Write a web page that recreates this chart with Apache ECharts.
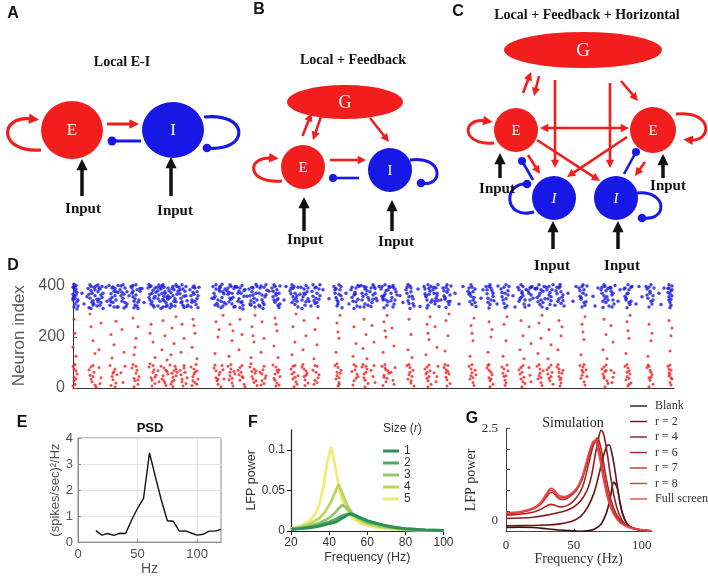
<!DOCTYPE html>
<html><head><meta charset="utf-8">
<script src="https://cdn.jsdelivr.net/npm/echarts/dist/echarts.min.js"></script>
<style>html,body{margin:0;padding:0;background:#fff}#c{width:708px;height:577px}</style>
</head><body><div id="c"></div>
<script>
// ---------------- DATA ----------------
// Panel D raster: flat [time, neuron] pairs (time in arbitrary units 0..601)
const spikesInhibitory = [
0,395,1,360,2,330,3,402,1,318,4,375,0,345,3,388,2,352,5,322,1,407,4,338,0,368,
15,390,17,352,19,372,21,330,23,400,16,315,18,383,20,342,22,362,24,322,17,405,19,336,21,395,14,358,
25,378,27,325,29,398,26,348,28,365,30,312,27,388,25,338,29,355,
36,402,38,370,40,335,42,390,44,318,39,355,41,380,43,345,37,325,40,396,42,362,45,375,
47,385,49,340,51,368,53,320,48,400,50,352,52,392,54,330,49,376,51,314,
58,398,60,358,62,326,64,385,66,345,59,372,61,315,63,405,65,336,60,380,62,350,64,322,67,390,
75,392,77,345,79,372,81,318,76,406,78,330,80,384,82,360,77,398,79,338,81,352,83,376,
84,395,85,322,86,365,87,340,85,382,88,312,86,404,
88,388,90,348,92,372,94,325,89,400,91,360,93,335,95,392,90,318,92,378,94,355,91,342,
96,382,98,330,100,398,102,350,104,368,97,315,99,390,101,340,103,405,100,362,98,374,102,322,
106,395,108,352,110,325,112,380,114,342,107,370,109,405,111,316,113,362,110,388,108,334,
117,385,119,345,121,400,123,328,125,362,118,318,120,375,122,392,124,350,119,336,121,368,
140,398,142,360,144,332,146,385,148,315,141,372,143,405,145,345,147,380,142,326,
147,394,149,355,151,370,150,322,148,340,152,388,149,407,
154,382,156,338,158,398,160,356,162,320,155,368,157,405,159,330,161,390,158,348,156,375,
164,395,166,350,168,372,170,325,172,386,165,340,167,315,169,402,171,360,168,335,166,380,
176,388,178,342,180,365,182,318,184,398,177,330,179,378,181,352,183,406,180,392,178,325,
186,372,188,400,190,335,192,358,194,384,187,320,189,346,191,395,193,366,190,312,
199,392,201,345,203,372,205,325,207,400,200,358,202,336,204,385,206,316,203,364,201,405,205,350,
217,382,219,335,221,398,223,352,225,318,218,370,220,390,222,328,224,362,221,345,219,405,
228,395,230,358,232,325,234,378,236,340,229,312,231,388,233,402,235,350,232,368,
239,380,241,342,243,395,245,320,247,362,240,405,242,332,244,372,246,388,243,352,
261,398,263,355,265,330,267,385,269,315,262,372,264,345,266,405,268,362,265,338,263,390,
278,385,280,340,282,368,284,322,286,398,279,355,281,312,283,392,285,348,282,376,
288,402,290,360,292,330,294,382,296,345,289,372,291,318,293,395,295,355,292,388,
297,378,299,335,301,398,303,352,298,320,300,365,302,390,304,342,300,405,
308,388,310,345,312,370,314,325,316,398,309,360,311,315,313,382,315,338,312,405,310,352,
317,395,319,355,321,330,323,378,318,342,320,318,322,388,324,365,320,402,
333,385,335,342,337,400,339,360,341,322,334,372,336,332,338,392,340,350,337,312,335,406,
351,398,353,358,355,325,357,380,359,345,352,370,354,314,356,390,358,336,355,405,353,362,
360,385,362,340,364,372,366,320,361,395,363,352,365,405,362,330,364,362,
370,392,372,348,374,376,376,328,378,400,371,362,373,316,375,385,377,340,374,405,372,355,
395,380,397,338,399,395,401,355,403,320,396,368,398,405,400,345,402,388,399,328,397,372,
413,398,415,352,417,328,419,382,421,342,414,370,416,314,418,392,420,360,417,405,415,336,
428,388,430,345,432,372,434,322,436,398,429,358,431,332,433,405,435,365,432,315,
445,395,447,350,449,378,451,330,453,386,446,340,448,405,450,362,452,318,449,372,
455,382,457,345,459,398,456,325,458,365,460,352,457,392,
463,388,465,338,467,372,469,318,471,398,464,355,466,405,468,345,470,380,467,328,
473,395,475,350,477,328,479,385,476,365,478,342,474,312,480,405,477,375,
483,382,485,340,487,398,489,356,491,322,484,370,486,392,488,332,490,365,487,406,
506,392,508,348,510,372,512,325,514,400,507,360,509,318,511,385,513,338,510,405,508,355,
528,385,530,340,532,398,534,358,536,322,529,372,531,405,533,335,535,390,532,350,530,316,
537,395,539,365,541,330,538,380,540,345,542,402,539,318,
551,388,553,345,555,372,557,328,559,398,552,360,554,315,556,385,558,340,555,405,553,352,
573,398,575,352,577,380,579,330,581,392,574,365,576,318,578,405,580,345,577,372,
595,390,596,345,597,370,598,325,599,400,596,358,597,315,598,382,596,405,597,335,599,362,
9,372,11,330,33,395,34,340,45,318,56,362,69,390,71,335,95,348,105,380,115,325,126,395,139,352,
153,330,163,398,174,360,186,325,196,380,211,345,213,398,227,368,238,322,250,385,256,350,273,372,
276,330,287,318,306,398,327,362,330,335,345,388,347,320,368,345,382,372,386,330,390,398,408,352,
410,385,424,330,425,400,440,362,442,318,462,390,472,350,482,325,495,372,500,340,503,398,520,360,
522,322,525,392,545,340,547,385,563,330,566,398,569,358,586,372,588,328,591,392,
0,352,2,380,4,310,1,392,3,365,5,345,16,368,18,398,20,326,22,385,24,348,18,312,
26,392,28,335,30,372,25,404,37,348,39,392,41,318,43,378,45,402,38,338,
48,362,50,405,52,335,54,378,59,392,61,340,63,365,65,312,67,380,60,402,
76,355,78,400,80,325,82,392,77,368,85,350,87,394,89,372,91,395,93,320,95,362,90,405,
97,355,99,322,101,385,103,338,104,398,107,385,109,338,111,360,113,398,114,320,
118,362,120,395,122,340,124,378,125,315,141,352,143,388,145,322,147,398,150,378,151,335,
155,392,157,352,159,372,161,318,162,398,165,372,167,392,169,338,171,382,170,310,
177,362,179,395,181,335,183,372,184,345,187,392,189,365,191,328,193,405,
200,380,202,398,204,345,206,372,207,330,218,392,220,358,222,372,224,340,225,395,
229,345,231,372,233,338,235,392,240,360,242,392,244,335,246,348,247,405,
262,385,264,322,266,368,268,398,269,348,279,395,281,365,283,338,285,402,
289,345,291,398,293,368,295,325,298,392,300,348,302,372,309,398,311,362,313,345,315,385,
318,372,320,395,322,345,334,395,336,358,338,378,340,332,352,388,354,345,356,368,358,398,
361,372,363,392,365,342,371,382,373,395,375,338,377,365,396,392,398,360,400,378,402,335,
414,385,416,398,418,345,420,372,429,375,431,395,433,350,435,382,446,385,448,355,450,398,452,345,
456,372,458,395,464,392,466,362,468,385,470,335,474,385,476,398,478,358,
484,395,486,350,488,378,490,342,507,382,509,398,511,335,513,365,
529,395,531,362,533,382,535,345,538,392,540,372,552,392,554,370,556,335,558,395,
574,388,576,395,578,340,580,362,595,375,596,392,598,348,599,385
];
const spikesExcitatory = [
0,85,1,42,2,15,3,68,1,28,4,55,0,8,2,92,
16,72,18,35,20,88,22,12,17,50,19,25,21,62,23,5,
26,80,28,40,27,18,
37,88,39,45,41,65,43,20,38,10,40,32,42,75,44,52,
48,60,50,22,52,85,
59,78,61,38,63,58,65,15,60,92,62,28,64,70,66,45,61,5,
76,82,78,40,80,62,82,18,77,95,79,30,81,72,83,50,79,8,
85,68,86,25,
88,85,90,48,92,20,94,65,89,35,91,78,93,10,95,55,
97,90,99,58,101,30,103,75,98,15,100,42,102,85,104,62,100,5,99,25,
107,70,109,35,111,88,113,18,108,52,110,8,112,62,114,40,
118,82,120,45,122,22,124,68,119,10,121,55,123,92,125,35,121,75,120,28,
141,78,143,40,145,15,147,62,142,90,144,28,146,52,148,5,
150,72,151,35,149,88,
155,85,157,48,159,20,161,65,156,32,158,75,160,8,162,55,158,92,
165,70,167,30,169,88,171,15,166,52,168,62,170,40,172,5,
177,82,179,45,181,22,183,68,178,95,180,35,182,58,184,10,181,75,
187,62,189,28,191,85,193,48,188,12,190,72,192,38,
200,90,202,55,204,20,206,72,201,38,203,8,205,62,207,45,203,82,202,30,
218,75,220,35,222,88,224,15,219,55,221,62,223,25,225,48,221,5,
229,82,231,45,233,68,235,20,230,92,232,32,234,58,232,10,
240,70,242,30,244,85,246,52,241,15,243,62,245,40,
262,88,264,48,266,22,268,70,263,35,265,80,267,58,265,8,264,95,266,40,
279,65,281,28,283,85,285,45,280,12,282,72,284,55,
289,82,291,40,293,62,295,18,290,92,292,30,294,75,292,5,
298,70,300,45,302,22,301,88,
309,85,311,50,313,25,315,68,310,10,312,78,314,38,316,58,312,92,
318,62,320,30,322,80,321,15,
334,88,336,52,338,20,340,70,335,35,337,80,339,45,341,8,337,62,
352,75,354,38,356,90,358,15,353,55,355,28,357,68,355,5,354,82,
361,60,363,25,365,85,364,45,
371,80,373,42,375,65,377,18,372,92,374,32,376,55,374,8,373,72,
396,85,398,48,400,22,402,70,397,35,399,60,401,10,403,52,399,92,
414,78,416,40,418,62,420,15,415,88,417,28,419,52,417,5,416,70,
429,82,431,45,433,20,435,68,430,58,432,30,434,90,432,10,
446,72,448,35,450,88,452,18,447,55,449,62,451,42,449,5,
456,80,458,25,457,50,
464,85,466,48,468,22,470,68,465,35,467,75,469,10,467,58,
474,72,476,38,478,90,480,15,475,55,477,28,479,62,
484,82,486,45,488,20,490,70,485,92,487,32,489,58,487,8,486,75,
507,88,509,50,511,25,513,72,508,38,510,62,512,12,514,45,510,82,
529,75,531,38,533,90,535,18,530,55,532,65,534,28,532,5,531,82,
538,70,540,42,539,22,541,60,
552,85,554,45,556,68,558,20,553,32,555,78,557,55,555,8,554,92,556,38,
574,80,576,40,578,62,580,15,575,90,577,30,579,52,577,70,576,5,
595,85,596,48,597,22,598,70,599,35,596,60,597,90,598,12,597,55,
1,75,3,35,18,82,20,45,40,58,42,5,63,85,65,32,80,88,82,42,91,28,93,70,101,68,103,48,
111,78,109,25,122,62,124,15,143,68,145,35,157,62,159,38,167,80,169,45,179,65,183,28,
189,55,191,18,204,70,206,12,220,85,222,42,231,75,233,50,242,88,244,22,264,62,266,15,
281,92,283,38,291,55,293,85,311,42,313,72,336,92,338,28,354,62,356,45,373,60,375,88,
398,75,400,40,416,92,418,35,431,75,433,48,448,80,450,25,466,92,468,40,476,80,478,45,
486,62,488,38,509,70,511,92,531,45,533,70,554,62,556,15,576,85,578,42,596,75,598,40,
1,270,2,215,0,160,3,125,18,240,20,185,22,135,17,290,28,255,26,150,
38,210,41,170,43,262,39,118,49,230,51,140,60,275,63,195,61,130,65,240,62,160,
78,250,80,180,82,120,77,215,90,265,92,205,89,150,94,110,99,235,101,175,103,280,98,130,
109,250,111,195,108,140,120,270,122,215,119,160,124,115,121,245,
143,260,145,200,142,135,146,230,150,285,157,250,159,185,156,125,160,225,
167,270,169,210,166,150,179,240,181,180,178,120,182,285,180,205,189,260,191,195,188,140,
202,275,204,225,201,165,205,120,203,250,220,240,222,180,219,130,223,290,
231,265,233,205,230,150,242,230,244,170,241,115,245,275,
264,255,266,195,263,140,267,285,265,220,281,240,283,175,280,125,
291,270,293,210,290,155,294,115,299,245,301,180,
311,260,313,200,310,140,314,285,312,225,319,235,321,165,
336,270,338,210,335,150,339,120,354,250,356,190,353,130,357,280,355,215,362,240,364,160,
373,265,375,205,372,145,376,290,398,245,400,185,397,125,401,275,399,215,
416,260,418,200,415,140,419,230,431,250,433,185,430,125,434,280,
448,265,450,205,447,150,451,115,456,240,458,175,466,255,468,195,465,135,469,285,
476,230,478,170,475,115,486,265,488,205,485,150,489,240,
509,250,511,190,508,130,512,280,510,220,531,270,533,210,530,150,534,115,538,245,540,180,
554,260,556,195,553,135,557,285,555,225,576,250,578,185,575,125,579,215,
596,265,598,205,597,145,599,235
];
const rasterYTicks = [0, 200, 400];

// Panel E: PSD
const psdHz    = [15, 20, 25, 30, 35, 40, 45, 50, 55, 60, 65, 70, 75, 80, 85, 90, 95, 100, 105, 110, 115, 120];
const psdPower = [0.44,0.27,0.33,0.26,0.34,0.33,0.85,1.3,1.68,3.43,2.5,1.6,0.82,0.8,0.42,0.43,0.35,0.27,0.3,0.42,0.42,0.49];

// Panel F: LFP power vs frequency for sizes r = 1..5
const sizeNames = ['1', '2', '3', '4', '5'];
const lfpSize1 = [[20,0.002],[25,0.003],[30,0.004],[35,0.006],[40,0.009],[43.5,0.011],[47,0.016],[51,0.0215],[54,0.019],[57,0.016],[60,0.013],[65,0.0095],[70,0.0065],[75,0.0045],[80,0.003],[90,0.0015],[100,0.0008]];
const lfpSize2 = [[20,0.002],[25,0.003],[30,0.005],[35,0.008],[40,0.011],[43,0.014],[46,0.018],[48,0.02],[50.5,0.021],[53,0.019],[56,0.016],[60,0.012],[65,0.009],[70,0.006],[75,0.004],[80,0.003],[90,0.0015],[100,0.0008]];
const lfpSize3 = [[20,0.002],[25,0.004],[30,0.006],[35,0.01],[40,0.016],[43,0.022],[45,0.028],[47,0.032],[49,0.029],[51,0.024],[54,0.018],[58,0.012],[62,0.009],[70,0.005],[80,0.002],[90,0.001],[100,0.0005]];
const lfpSize4 = [[20,0.003],[25,0.005],[30,0.009],[35,0.016],[38,0.024],[41,0.036],[43,0.047],[45,0.058],[47,0.046],[49,0.034],[52,0.022],[55,0.015],[60,0.009],[65,0.006],[70,0.004],[80,0.002],[90,0.001],[100,0.0005]];
const lfpSize5 = [[20,0.003],[25,0.006],[30,0.013],[33,0.022],[35,0.034],[37,0.055],[39,0.085],[41,0.104],[43,0.083],[45,0.055],[47,0.037],[50,0.023],[53,0.015],[56,0.01],[60,0.007],[65,0.004],[70,0.003],[80,0.0015],[90,0.0008],[100,0.0004]];

// Panel G: simulated LFP power
const simNames = ['Blank', 'r = 2', 'r = 4', 'r = 6', 'r = 7', 'r = 8', 'Full screen'];
const simBlank = [[0,0.1],[10,0.11],[20,0.1],[30,0.07],[40,0.04],[50,0.02],[55,0.01],[60,0.02],[65,0.06],[70,0.18],[74,0.45],[77,0.85],[79.5,1.2],[82,1.05],[84,0.7],[86,0.42],[89,0.2],[93,0.09],[100,0.04],[107,0.02]];
const simR2 = [[0,0.14],[10,0.15],[20,0.15],[30,0.16],[40,0.19],[45,0.22],[50,0.27],[55,0.37],[60,0.58],[65,0.95],[69,1.45],[72,1.85],[74.5,2.08],[76,2.1],[78,1.9],[80,1.55],[82,1.1],[84,0.7],[86,0.42],[89,0.2],[93,0.1],[100,0.04],[107,0.02]];
const simR4 = [[0,0.32],[10,0.33],[20,0.35],[30,0.4],[40,0.47],[45,0.52],[50,0.6],[55,0.74],[60,1.02],[63,1.35],[66,1.9],[68.5,2.3],[70,2.45],[71.5,2.4],[73,2.2],[75,1.8],[77,1.35],[80,0.8],[83,0.45],[86,0.25],[90,0.12],[95,0.06],[100,0.04],[107,0.02]];
const simR6 = [[0,0.4],[10,0.42],[20,0.47],[26,0.55],[30,0.62],[33,0.66],[36,0.64],[40,0.6],[45,0.63],[50,0.75],[55,0.98],[58,1.25],[61,1.65],[64,2.05],[66,2.22],[67.5,2.27],[69,2.15],[71,1.85],[73,1.45],[76,0.95],[79,0.6],[82,0.38],[86,0.22],[90,0.12],[95,0.07],[100,0.04],[107,0.02]];
const simR7 = [[0,0.44],[10,0.46],[20,0.55],[25,0.65],[29,0.8],[32,0.93],[34,0.95],[37,0.86],[40,0.78],[43,0.78],[47,0.85],[52,1.0],[56,1.25],[59,1.55],[62,1.9],[64.5,2.12],[66.5,2.2],[68,2.1],[70,1.8],[72,1.4],[75,0.92],[78,0.58],[81,0.38],[85,0.22],[90,0.12],[95,0.07],[100,0.04],[107,0.02]];
const simR8 = [[0,0.45],[10,0.47],[20,0.56],[25,0.67],[29,0.85],[32,0.99],[34,1.0],[37,0.9],[40,0.82],[43,0.82],[47,0.88],[52,1.03],[56,1.3],[59,1.62],[62,1.98],[64.5,2.18],[66,2.19],[67.5,2.05],[69.5,1.75],[72,1.3],[75,0.85],[78,0.55],[81,0.36],[85,0.21],[90,0.12],[95,0.07],[100,0.04],[107,0.02]];
const simFull = [[0,0.46],[10,0.48],[20,0.57],[25,0.69],[29,0.88],[32,1.03],[34,1.05],[37,0.95],[40,0.86],[43,0.85],[47,0.9],[52,1.05],[56,1.32],[59,1.66],[62,2.0],[64,2.17],[65.5,2.2],[67,2.08],[69,1.78],[71.5,1.32],[74.5,0.85],[77.5,0.55],[80.5,0.36],[84,0.22],[90,0.11],[95,0.07],[100,0.04],[107,0.02]];

// ---------------- BUILD ----------------
function pairs(flat){const o=[];for(let i=0;i<flat.length;i+=2)o.push([flat[i],flat[i+1]]);return o;}
const SANS='"Liberation Sans", Arial, sans-serif';
const SERIF='"Liberation Serif", "Times New Roman", serif';
const RED='#f21d1d', BLUE='#1717e6', BLK='#111111';

// schematic diagrams (panels A-C) drawn as graphic elements
const GR=[];
function txt(x,y,t,font,fill){GR.push({type:'text',x:x,y:y,z:10,style:{text:t,font:font,fill:fill,align:'center',verticalAlign:'middle',textAlign:'center',textVerticalAlign:'middle'}});}
function node(cx,cy,rx,ry,color,label,italic,fs){
  GR.push({type:'circle',x:cx,y:cy,scaleX:rx,scaleY:ry,shape:{cx:0,cy:0,r:1},style:{fill:color}});
  txt(cx,cy+1,label,(italic?'italic ':'')+fs+'px '+SERIF,'#ffffff');
}
function head(x,y,ux,uy,color,L,W){
  GR.push({type:'polygon',shape:{points:[[x,y],[x-L*ux+W*uy,y-L*uy-W*ux],[x-L*ux-W*uy,y-L*uy+W*ux]]},style:{fill:color}});
}
function arrow(x1,y1,x2,y2,color,w,both){
  const dx=x2-x1,dy=y2-y1,d=Math.hypot(dx,dy),ux=dx/d,uy=dy/d,L=w*3.2,W=w*1.6;
  GR.push({type:'line',shape:{x1:both?x1+ux*L*0.8:x1,y1:both?y1+uy*L*0.8:y1,x2:x2-ux*L*0.8,y2:y2-uy*L*0.8},style:{stroke:color,lineWidth:w}});
  head(x2,y2,ux,uy,color,L,W); if(both) head(x1,y1,-ux,-uy,color,L,W);
}
function inhib(x1,y1,x2,y2,color,w,r){
  GR.push({type:'line',shape:{x1:x1,y1:y1,x2:x2,y2:y2},style:{stroke:color,lineWidth:w}});
  GR.push({type:'circle',shape:{cx:x2,cy:y2,r:r},style:{fill:color}});
}
function loop(x1,y1,c1x,c1y,c2x,c2y,x2,y2,color,w,kind){
  GR.push({type:'bezierCurve',shape:{x1:x1,y1:y1,cpx1:c1x,cpy1:c1y,cpx2:c2x,cpy2:c2y,x2:x2,y2:y2},style:{stroke:color,lineWidth:w,fill:'none'}});
  if(kind==='arrow'){const dx=x2-c2x,dy=y2-c2y,d=Math.hypot(dx,dy),L=w*3.2;head(x2+dx/d*L*0.7,y2+dy/d*L*0.7,dx/d,dy/d,color,L,w*1.6);}
  else GR.push({type:'circle',shape:{cx:x2,cy:y2,r:4.3},style:{fill:color}});
}
const LET='bold 16px '+SANS, TIT='bold 14px '+SERIF, INP='bold 15px '+SERIF;
// Panel A
txt(13,14,'A',LET,BLK); txt(122,62,'Local E-I',TIT,BLK);
loop(41,150,-2,153,-2,115,32,119,RED,3.2,'arrow');
loop(204,117,250,112,250,152,207,148,BLUE,3.2,'dot');
node(72,130,31,29,RED,'E',false,17); node(173,130,31,28,BLUE,'I',false,17);
arrow(107,124,139,124,RED,3); inhib(141,141,112,141,BLUE,3,4.5);
arrow(82,196,82,159,BLK,3.5); txt(83,209,'Input',INP,BLK);
arrow(171,196,171,157,BLK,3.5); txt(175,211,'Input',INP,BLK);
// Panel B
txt(259,10,'B',LET,BLK); txt(353,60,'Local + Feedback',TIT,BLK);
loop(282,181,246,184,246,156,272,158,RED,3,'arrow');
loop(410,160,444,155,444,188,421,183,BLUE,3,'dot');
node(345,102,58,17,RED,'G',false,18);
node(303,167,22,22,RED,'E',false,15); node(390,170,22,22,BLUE,'I',false,15);
arrow(302.5,136,311.5,113,RED,2.6); arrow(321.5,115,313,140,RED,2.6);
arrow(370,118,389,142,RED,2.6);
arrow(330,160,366,160,RED,2.6); inhib(359,178,333,178,BLUE,2.6,4);
arrow(304,231,304,197,BLK,3.5); txt(305,240,'Input',INP,BLK);
arrow(392,231,392,200,BLK,3.5); txt(396,242,'Input',INP,BLK);
// Panel C
txt(458,12,'C',LET,BLK); txt(587,15,'Local + Feedback + Horizontal',TIT,BLK);
loop(494,143,461,146,461,117,486,121,RED,3,'arrow');
loop(676,114,713,110,713,142,690,140,RED,3,'arrow');
loop(534,212,503,220,503,182,527,184,BLUE,3,'dot');
loop(637,193,668,190,668,222,642,218,BLUE,3,'dot');
node(583,50,79,18,RED,'G',false,19);
arrow(523,93,531,72,RED,2.6); arrow(539,76,534,96,RED,2.6);
arrow(621,81,638,101,RED,2.6);
arrow(555,80,555,168,RED,2.6); arrow(610,83,610,168,RED,2.6);
arrow(540,128,629,128,RED,2.6,true);
arrow(537,140,600,181,RED,2.6); arrow(627,137,567,177,RED,2.6);
arrow(528,155,540,174,RED,2.6); arrow(645,162,635,176,RED,2.6);
inhib(533,180,522,161,BLUE,2.6,4); inhib(624,174,636,152,BLUE,2.6,4);
node(516,130,22,22,RED,'E',false,15); node(653,130,23,23,RED,'E',false,15);
node(554,198,22,22,BLUE,'I',true,15); node(616,198,22,22,BLUE,'I',true,15);
arrow(500,178,500,153,BLK,3.5); txt(497,189,'Input',INP,BLK);
arrow(663,178,663,154,BLK,3.5); txt(668,186,'Input',INP,BLK);
arrow(553,249,553,221,BLK,3.5); txt(552,266,'Input',INP,BLK);
arrow(618,249,618,221,BLK,3.5); txt(622,266,'Input',INP,BLK);
// panel letters / titles for lower panels
txt(13,266,'D',LET,BLK); txt(22,423,'E',LET,BLK); txt(253,423,'F',LET,BLK); txt(472,419,'G',LET,BLK);
txt(150,428,'PSD','bold 13px '+SANS,BLK);
txt(573,423,'Simulation','14px '+SERIF,'#222');

const fColors = ['#2f8f55','#4cad5c','#93c76e','#bad65e','#f3eb72'];
const fData = [lfpSize1,lfpSize2,lfpSize3,lfpSize4,lfpSize5];
const gColors = ['#3c0d0d','#661515','#8b1e1e','#a92626','#c42e2e','#d93a3a','#ea4747'];
const gData = [simBlank,simR2,simR4,simR6,simR7,simR8,simFull];

const series = [
  {type:'scatter',xAxisIndex:0,yAxisIndex:0,data:pairs(spikesInhibitory),symbolSize:3.5,itemStyle:{color:BLUE},silent:true},
  {type:'scatter',xAxisIndex:0,yAxisIndex:0,data:pairs(spikesExcitatory),symbolSize:3,itemStyle:{color:RED},silent:true},
  {type:'line',xAxisIndex:1,yAxisIndex:1,data:psdHz.map((h,i)=>[h,psdPower[i]]),symbol:'none',lineStyle:{color:'#111',width:1.4},silent:true}
];
for(let i=4;i>=0;i--) series.push({name:sizeNames[i],type:'line',xAxisIndex:2,yAxisIndex:2,data:fData[i],symbol:'none',color:fColors[i],lineStyle:{color:fColors[i],width:2.8},silent:true});
for(let i=0;i<7;i++) series.push({name:simNames[i],type:'line',xAxisIndex:3,yAxisIndex:3,data:gData[i],symbol:'none',smooth:0.3,color:gColors[i],lineStyle:{color:gColors[i],width:1.6},silent:true});

const near=(v,arr)=>arr.some(a=>Math.abs(a-v)<1e-6);
const option = {
  animation:false,
  backgroundColor:'#ffffff',
  textStyle:{fontFamily:SANS},
  grid:[
    {left:73, top:283.5, width:601, height:104.5},
    {left:78, top:438, width:143, height:106, show:true, borderColor:'#8a8a8a', borderWidth:1},
    {left:291, top:429.75, width:152.5, height:101.25},
    {left:506, top:428.2, width:145.2, height:103.5}
  ],
  xAxis:[
    {gridIndex:0,type:'value',min:0,max:601,axisLine:{show:true,lineStyle:{color:'#333',width:1}},axisTick:{show:false},axisLabel:{show:false},splitLine:{show:false}},
    {gridIndex:1,type:'value',min:0,max:120,interval:50,name:'Hz',nameLocation:'middle',nameGap:19,nameTextStyle:{color:'#555',fontSize:14,fontFamily:SANS},
      axisLine:{show:true,lineStyle:{color:'#8a8a8a'}},axisTick:{show:true,inside:true,length:3,lineStyle:{color:'#8a8a8a'},customValues:[0,50,100]},
      axisLabel:{color:'#555',fontSize:13,margin:6,customValues:[0,50,100],formatter:v=>near(v,[0,50,100])?String(v):''},
      splitLine:{show:true,lineStyle:{color:'#e4e4e4',width:1}}},
    {gridIndex:2,type:'value',min:20,max:100,interval:20,name:'Frequency (Hz)',nameLocation:'middle',nameGap:20,nameTextStyle:{color:'#333',fontSize:12.5,fontFamily:SANS},
      axisLine:{show:true,lineStyle:{color:'#222',width:1.2}},axisTick:{show:true,inside:false,length:4,lineStyle:{color:'#222'}},
      axisLabel:{color:'#333',fontSize:12,margin:6},splitLine:{show:false}},
    {gridIndex:3,type:'value',min:0,max:107,interval:50,name:'Frequency (Hz)',nameLocation:'middle',nameGap:19,nameTextStyle:{color:'#333',fontSize:14,fontFamily:SERIF},
      axisLine:{show:true,lineStyle:{color:'#444',width:1}},axisTick:{show:true,inside:true,length:3,lineStyle:{color:'#444'},customValues:[0,50,100]},
      axisLabel:{color:'#333',fontSize:13,fontFamily:SERIF,margin:7,customValues:[0,50,100],formatter:v=>near(v,[0,50,100])?String(v):''},splitLine:{show:false}}
  ],
  yAxis:[
    {gridIndex:0,type:'value',min:0,max:410,interval:200,name:'Neuron index',nameLocation:'middle',nameGap:37,nameTextStyle:{color:'#555',fontSize:17,fontFamily:SANS},
      axisLine:{show:true,lineStyle:{color:'#333',width:1}},axisTick:{show:true,inside:true,length:4,lineStyle:{color:'#555'},customValues:rasterYTicks},
      axisLabel:{color:'#555',fontSize:16,margin:8,customValues:rasterYTicks,formatter:v=>near(v,rasterYTicks)?String(v):''},splitLine:{show:false}},
    {gridIndex:1,type:'value',min:0,max:4,interval:1,name:'(spikes/sec)\u00b2/Hz',nameLocation:'middle',nameGap:13,nameTextStyle:{color:'#555',fontSize:13,fontFamily:SANS},
      axisLine:{show:true,lineStyle:{color:'#8a8a8a'}},axisTick:{show:true,inside:true,length:3,lineStyle:{color:'#8a8a8a'}},
      axisLabel:{color:'#555',fontSize:13,margin:5},splitLine:{show:true,lineStyle:{color:'#e4e4e4',width:1}}},
    {gridIndex:2,type:'value',min:0,max:0.125,interval:0.05,name:'LFP power',nameLocation:'middle',nameGap:25,nameTextStyle:{color:'#333',fontSize:12.5,fontFamily:SANS},
      axisLine:{show:true,lineStyle:{color:'#222',width:1.2}},axisTick:{show:true,inside:false,length:4,lineStyle:{color:'#222'},customValues:[0,0.05,0.1]},
      axisLabel:{color:'#333',fontSize:12,margin:6,customValues:[0,0.05,0.1],formatter:v=>near(v,[0])?'0':near(v,[0.05])?'0.05':near(v,[0.1])?'0.1':''},splitLine:{show:false}},
    {gridIndex:3,type:'value',min:0,max:2.5,interval:0.5,name:'LFP power',nameLocation:'middle',nameGap:26,nameTextStyle:{color:'#333',fontSize:14,fontFamily:SERIF},
      axisLine:{show:true,lineStyle:{color:'#444',width:1}},axisTick:{show:true,inside:true,length:4,lineStyle:{color:'#444'}},
      axisLabel:{color:'#333',fontSize:13,fontFamily:SERIF,margin:8,customValues:[0,2.5],
        formatter:v=>near(v,[0])?'{z|0}':near(v,[2.5])?'2.5':'',
        rich:{z:{fontSize:13,fontFamily:SERIF,color:'#333',padding:[0,0,22,0]}}},splitLine:{show:false}}
  ],
  legend:[
    {data:sizeNames,orient:'vertical',left:383,top:445,padding:0,itemGap:0,itemWidth:16,itemHeight:3,icon:'rect',
      textStyle:{color:'#333',fontSize:12,lineHeight:11.3,fontFamily:SANS},selectedMode:false},
    {data:simNames,orient:'vertical',left:630,top:399.5,padding:0,itemGap:2.5,itemWidth:17,itemHeight:1.4,icon:'rect',
      textStyle:{color:'#333',fontSize:12,lineHeight:13,fontFamily:SERIF,padding:[0,0,0,3]},selectedMode:false}
  ],
  title:{text:'{a|Size (}{b|r}{a|)}',left:383,top:423,padding:0,
    textStyle:{fontWeight:'normal',rich:{a:{fontSize:12,color:'#333',fontFamily:SANS,fontWeight:'normal'},b:{fontSize:12,color:'#333',fontFamily:SANS,fontStyle:'italic',fontWeight:'normal'}}}},
  graphic:GR,
  series:series
};
const chart = echarts.init(document.getElementById('c'), null, {renderer:'canvas'});
chart.setOption(option);
</script></body></html>
